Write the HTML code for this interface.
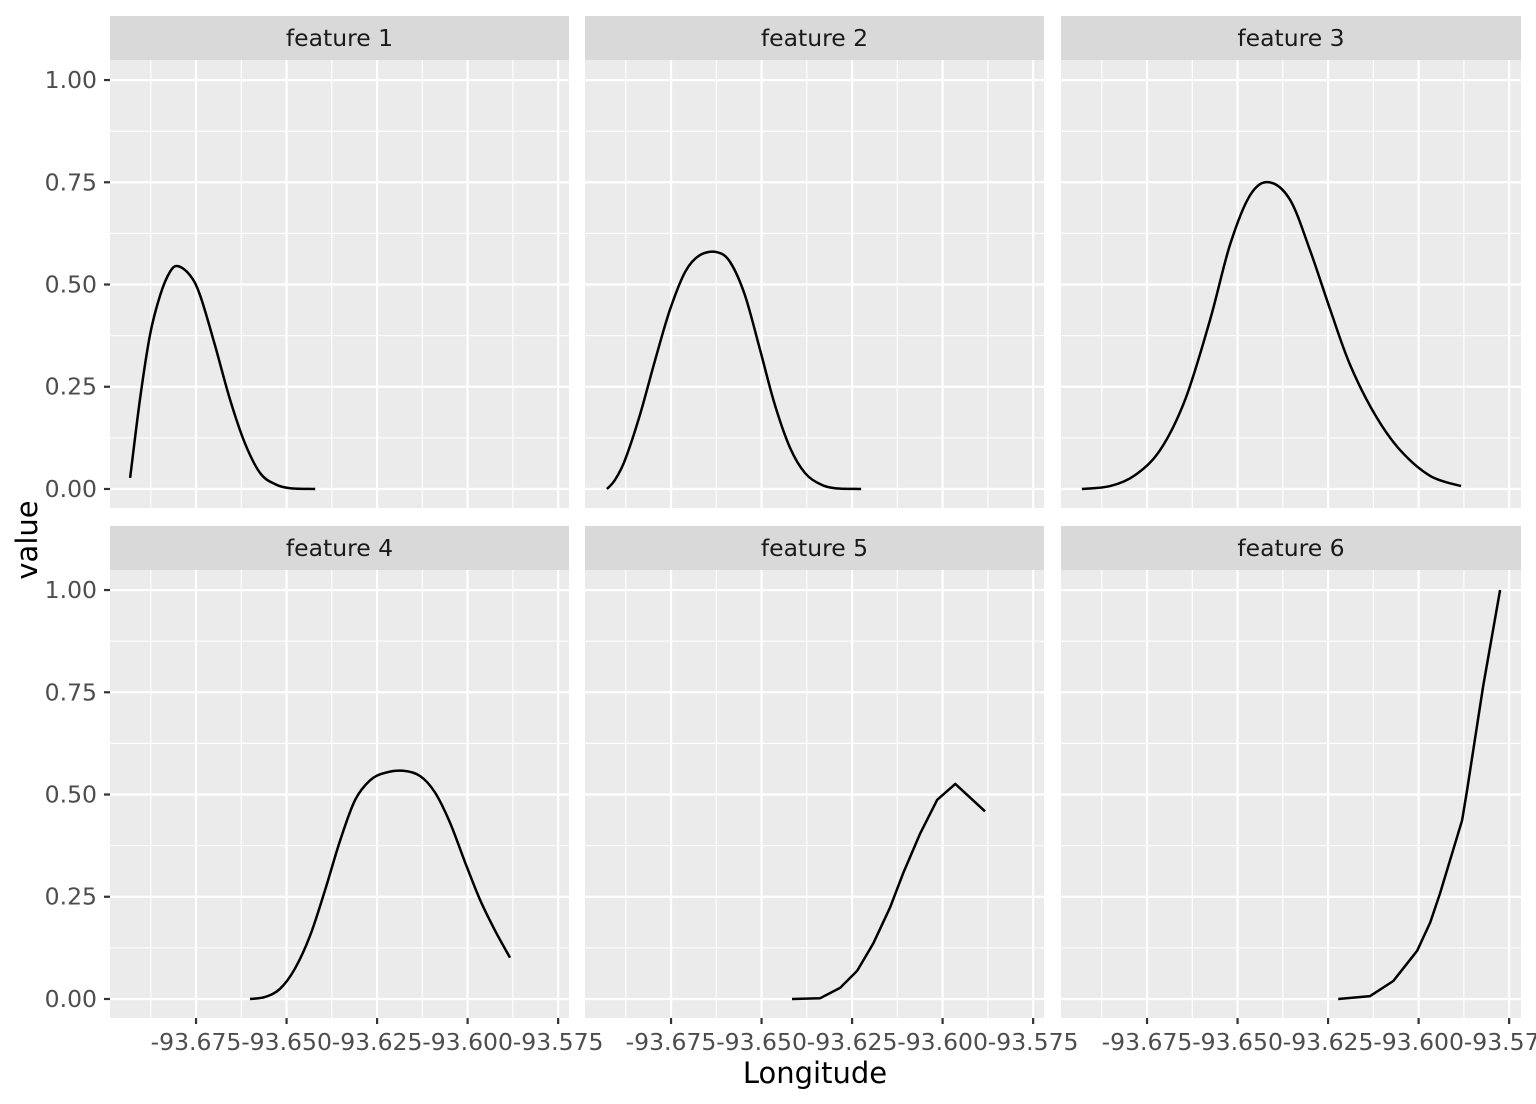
<!DOCTYPE html>
<html><head><meta charset="utf-8"><style>
body{margin:0;background:#fff;}
svg{display:block;font-family:"DejaVu Sans","Liberation Sans",sans-serif;}
</style></head><body>
<svg id="chart" width="1536" height="1104" xmlns="http://www.w3.org/2000/svg"></svg>
<script>
const facetTitles = ["feature 1","feature 2","feature 3","feature 4","feature 5","feature 6"];
const xTicks = [-93.675,-93.650,-93.625,-93.600,-93.575];
const xTickLabels = ["-93.675","-93.650","-93.625","-93.600","-93.575"];
const yTicks = [0,0.25,0.5,0.75,1.0];
const yTickLabels = ["0.00","0.25","0.50","0.75","1.00"];
const lon1 = [-93.6932,-93.6905,-93.6877,-93.6849,-93.6822,-93.6800,-93.6767,-93.6739,-93.6698,-93.6656,-93.6615,-93.6573,-93.6532,-93.6490,-93.6421];
const val1 = [0.027,0.218,0.377,0.474,0.531,0.545,0.523,0.474,0.352,0.218,0.112,0.039,0.012,0.002,0];
const lon2 = [-93.6927,-93.6905,-93.6877,-93.6836,-93.6794,-93.6753,-93.6711,-93.6670,-93.6623,-93.6587,-93.6546,-93.6504,-93.6463,-93.6421,-93.6380,-93.6338,-93.6297,-93.6225];
const val2 = [0,0.022,0.071,0.181,0.315,0.438,0.531,0.572,0.579,0.555,0.474,0.340,0.205,0.100,0.039,0.012,0.002,0];
const lon3 = [-93.6930,-93.6852,-93.6783,-93.6714,-93.6645,-93.6576,-93.6521,-93.6465,-93.6413,-93.6355,-93.6300,-93.6244,-93.6189,-93.6120,-93.6051,-93.5968,-93.5883];
const val3 = [0,0.007,0.034,0.095,0.218,0.413,0.597,0.719,0.750,0.707,0.584,0.438,0.303,0.181,0.095,0.032,0.007];
const lon4 = [-93.6601,-93.6559,-93.6518,-93.6477,-93.6435,-93.6394,-93.6352,-93.6311,-93.6269,-93.6228,-93.6178,-93.6131,-93.6090,-93.6048,-93.6007,-93.5965,-93.5924,-93.5883];
const val4 = [0,0.005,0.025,0.074,0.155,0.265,0.388,0.486,0.535,0.553,0.558,0.545,0.505,0.430,0.334,0.241,0.167,0.101];
const lon5 = [-93.6416,-93.6338,-93.6283,-93.6236,-93.6192,-93.6145,-93.6109,-93.6062,-93.6015,-93.5965,-93.5883];
const val5 = [0,0.002,0.027,0.069,0.135,0.224,0.307,0.405,0.487,0.526,0.459];
const lon6 = [-93.6222,-93.6134,-93.6070,-93.6004,-93.5968,-93.5941,-93.5880,-93.5866,-93.5822,-93.5775];
const val6 = [0,0.007,0.044,0.118,0.187,0.258,0.437,0.511,0.764,1.0];
const lons=[lon1,lon2,lon3,lon4,lon5,lon6], vals=[val1,val2,val3,val4,val5,val6];
const smoothFlags=[true,true,true,true,false,false];

const NS="http://www.w3.org/2000/svg";
const svg=document.getElementById('chart');
function mk(tag,attrs,parent){const e=document.createElementNS(NS,tag);for(const k in attrs)e.setAttribute(k,attrs[k]);(parent||svg).appendChild(e);return e;}
function pathD(P,smooth){
  let d='M'+P[0][0].toFixed(1)+','+P[0][1].toFixed(1);
  for(let k=0;k<P.length-1;k++){
    if(!smooth){d+=' L'+P[k+1][0].toFixed(1)+','+P[k+1][1].toFixed(1);continue;}
    const p0=P[Math.max(k-1,0)],p1=P[k],p2=P[k+1],p3=P[Math.min(k+2,P.length-1)];
    const c1=[p1[0]+(p2[0]-p0[0])/6,p1[1]+(p2[1]-p0[1])/6];
    const c2=[p2[0]-(p3[0]-p1[0])/6,p2[1]-(p3[1]-p1[1])/6];
    d+=' C'+c1[0].toFixed(1)+','+c1[1].toFixed(1)+' '+c2[0].toFixed(1)+','+c2[1].toFixed(1)+' '+p2[0].toFixed(1)+','+p2[1].toFixed(1);
  }
  return d;
}
const colX=[110,585,1061], rowStrip=[16,526], rowPanel=[60,570], PW=459, PH=448;
const xMin=-93.69876, xMax=-93.5720, yMin=-0.0465, yMax=1.049;
for(let i=0;i<6;i++){
  const c=i%3, r=Math.floor(i/3);
  const px=colX[c], py=rowPanel[r], pw=(c===2?460:PW);
  const sx=v=>px+(v-xMin)/(xMax-xMin)*PW;
  const sy=v=>py+PH-(v-yMin)/(yMax-yMin)*PH;
  const g=mk('g',{});
  
  
  const st=mk('rect',{x:px,y:rowStrip[r],width:pw,height:44,fill:'#D9D9D9'},g);
  
  
  const stt=mk('text',{x:px+pw/2,y:rowStrip[r]+30,'text-anchor':'middle','font-size':'23.5px',fill:'#1A1A1A'},g);
  stt.textContent=facetTitles[i];
  
  
  const bg=mk('rect',{x:px,y:py,width:pw,height:PH,fill:'#EBEBEB'},g);
  
  
  for(let k=0;k<yTicks.length-1;k++){const v=(yTicks[k]+yTicks[k+1])/2;mk('line',{x1:px,x2:px+pw,y1:sy(v),y2:sy(v),stroke:'#fff','stroke-width':1.1},g);}
  const minorX=[xTicks[0]-0.0125].concat(xTicks.slice(0,-1).map((t,k)=>(t+xTicks[k+1])/2));
  minorX.forEach(v=>{if(sx(v)>px&&sx(v)<px+pw)mk('line',{x1:sx(v),x2:sx(v),y1:py,y2:py+PH,stroke:'#fff','stroke-width':1.1},g);});
  yTicks.forEach(v=>mk('line',{x1:px,x2:px+pw,y1:sy(v),y2:sy(v),stroke:'#fff','stroke-width':2.2},g));
  xTicks.forEach(v=>{if(sx(v)<px+pw)mk('line',{x1:sx(v),x2:sx(v),y1:py,y2:py+PH,stroke:'#fff','stroke-width':2.2},g);});
  const P=lons[i].map((l,k)=>[sx(l),sy(vals[i][k])]);
  const ln=mk('path',{d:pathD(P,smoothFlags[i]),fill:'none',stroke:'#000','stroke-width':2.5,'stroke-linejoin':'round'},g);
  
  
  if(c===0){
    yTicks.forEach((v,k)=>{
      mk('line',{x1:104,x2:110,y1:sy(v),y2:sy(v),stroke:'#333','stroke-width':2.2},g);
      const t=mk('text',{x:97,y:sy(v)+8,'text-anchor':'end','font-size':'23.5px',fill:'#4D4D4D'},g);
      t.textContent=yTickLabels[k];
      
      
    });
  }
  if(r===1){
    xTicks.forEach((v,k)=>{
      mk('line',{x1:sx(v),x2:sx(v),y1:1018,y2:1024,stroke:'#333','stroke-width':2.2},g);
      const t=mk('text',{x:sx(v),y:1050,'text-anchor':'middle','font-size':'23.5px',fill:'#4D4D4D'},g);
      t.textContent=xTickLabels[k];
      
      
    });
  }
}
const xt=mk('text',{x:815,y:1083,'text-anchor':'middle','font-size':'29px',fill:'#000'});
xt.textContent='Longitude';


const yt=mk('text',{x:37,y:540,'text-anchor':'middle','font-size':'29px',fill:'#000',transform:'rotate(-90 37 540)'});
yt.textContent='value';


</script>
</body></html>
